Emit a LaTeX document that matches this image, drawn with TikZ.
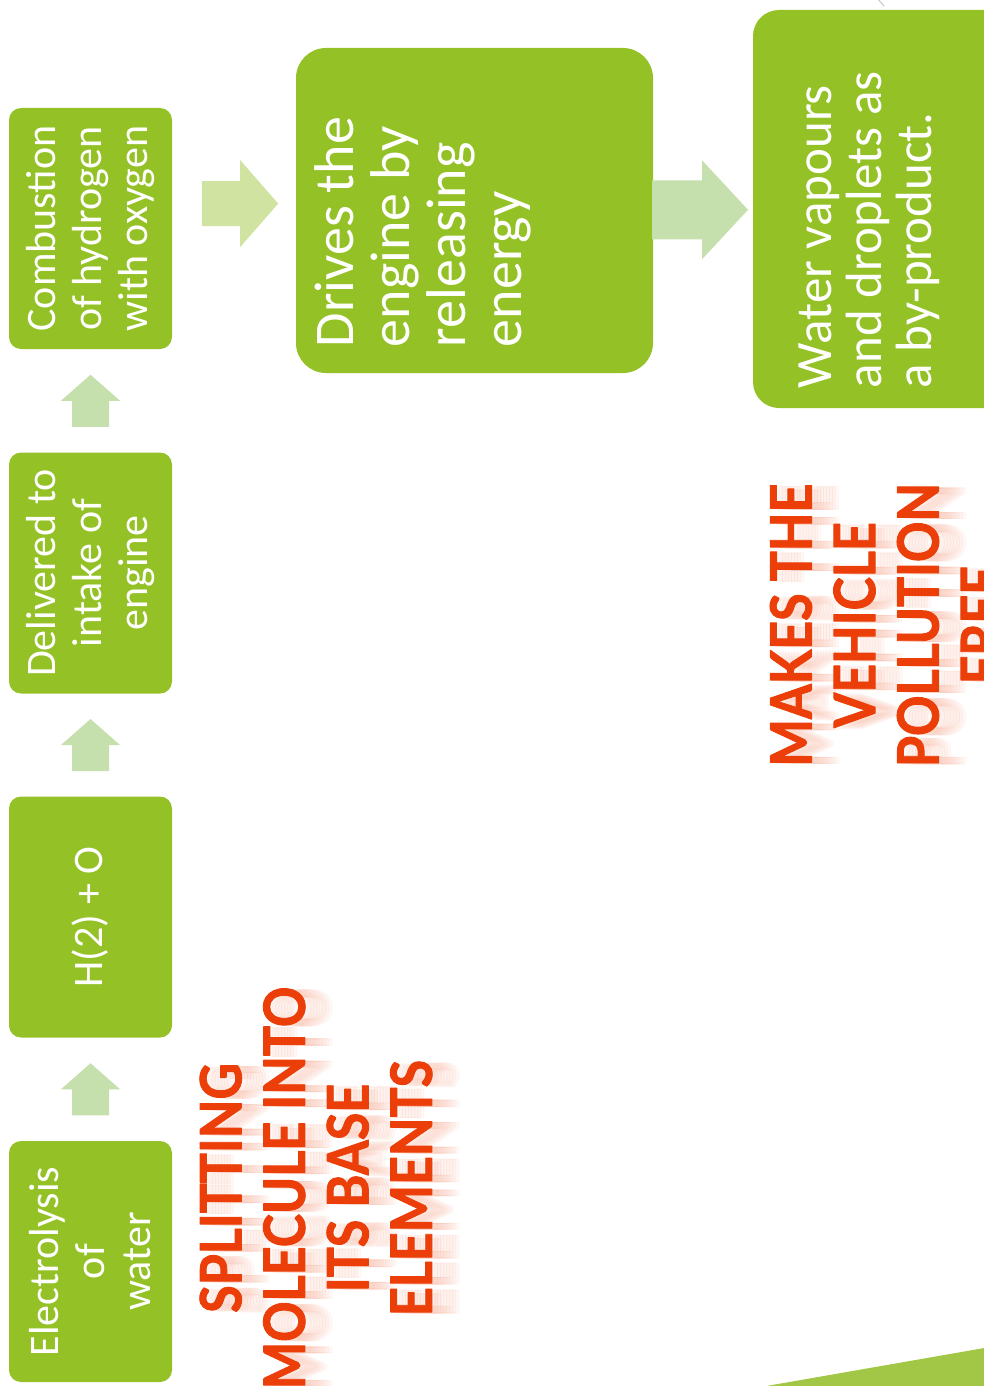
\documentclass[tikz,border=0pt]{standalone}
\usepackage{fontspec}
\setmainfont{Carlito}
\newfontfamily\headfont{Lato}[FakeStretch=0.88, BoldFeatures={FakeBold=1.6}]
\usetikzlibrary{positioning,calc}

\definecolor{boxgreen}{RGB}{147,193,38}
\definecolor{paleup}{RGB}{197,223,173}
\definecolor{palelime}{RGB}{208,227,160}
\definecolor{titlered}{RGB}{236,62,8}
\definecolor{cornergreen}{RGB}{162,198,69}

\tikzset{
  stepbox/.style={rectangle, rounded corners=12pt, fill=boxgreen, text=white,
    rotate=90, align=center, inner sep=0pt, minimum width=241pt,
    minimum height=163pt, font=\fontsize{42}{46}\selectfont},
  bigbox/.style={rectangle, fill=boxgreen, rotate=90, inner sep=0pt},
  boxtext/.style={rotate=90, anchor=north west, align=left, text=white, inner sep=0pt},
  headline/.style={rotate=90, align=center, inner sep=0pt, text=titlered,
    font=\headfont\bfseries\fontsize{57}{63.5}\selectfont},
  shade/.style={headline, text=titlered!40, opacity=0.09},
  pics/blockarrow/.style n args={4}{code={
    \fill (-#1/2,-#3) -- (#1/2-#2,-#3) -- (#1/2-#2,-#4) -- (#1/2,0)
      -- (#1/2-#2,#4) -- (#1/2-#2,#3) -- (-#1/2,#3) -- cycle;
  }}
}

\newcommand{\splittext}{SPLITTING\\MOLECULE INTO\\ITS BASE\\ELEMENTS}
\newcommand{\freetext}{MAKES THE\\VEHICLE\\POLLUTION\\FREE}

\begin{document}
\begin{tikzpicture}[x=1pt, y=-1pt, line cap=round, line join=round]
\useasboundingbox (0,0) rectangle (984,1386);
\clip (0,0) rectangle (984,1386);

% steps, read from bottom to top
\node[stepbox] (elec)  at (90.5,1261.5) {Electrolysis\\of\\water};
\node[stepbox] (htwo)  at (90.5,917)    {H(2) + O};
\node[stepbox] (deliv) at (90.5,573)    {Delivered to\\intake of\\engine};
\node[stepbox] (comb)  at (90.5,228.5)  {Combustion\\of hydrogen\\with oxygen};

\node[bigbox, minimum width=325pt, minimum height=357pt, rounded corners=30pt] (drive) at (474.5,210.5) {};
\node[bigbox, minimum width=398pt, minimum height=257pt, rounded corners=26pt] (water) at (881.5,209) {};

\node[boxtext, font=\fontsize{56}{56}\selectfont] (drivetxt)
  at ($(drive.north west)+(19,-26)$) {Drives the\\engine by\\releasing\\energy};
\node[boxtext, font=\fontsize{51}{50}\selectfont] (watertxt)
  at ($(water.north west)+(46,-20)$) {Water vapours\\and droplets as\\a by-product.};

% arrows between the steps
\pic[rotate=90, fill=paleup] at ($(elec.east)!.5!(htwo.west)$)  {blockarrow={52}{26}{18.5}{29.5}};
\pic[rotate=90, fill=paleup] at ($(htwo.east)!.5!(deliv.west)$) {blockarrow={52}{26}{18.5}{29.5}};
\pic[rotate=90, fill=paleup] at ($(deliv.east)!.5!(comb.west)$) {blockarrow={52}{26}{18.5}{29.5}};
\coordinate (ra) at ($(comb.south)!.55!(drive.north)+(0,-15)$);
\pic[fill=palelime] at (ra) {blockarrow={76}{38}{22.5}{43.5}};
\pic[fill=paleup] at ($(drive.south)!.47!(water.north)$) {blockarrow={96}{46}{29.5}{49.5}};

% red captions, with a soft shadow
\foreach \d in {6,9,...,27} {
  \node[shade] (splitshade\d) at (316+\d,1189) {\splittext};
  \node[shade] (freeshade\d)  at (886+\d,626)  {\freetext};
}
\node[headline] (split) at (316,1188) {\splittext};
\node[headline] (free)  at (886,625)  {\freetext};

\fill[cornergreen] (755,1388) -- (990,1347) -- (990,1390) -- cycle;
\draw[gray!45, line width=1pt] (877,-2) -- (884,6);

\end{tikzpicture}
\end{document}
